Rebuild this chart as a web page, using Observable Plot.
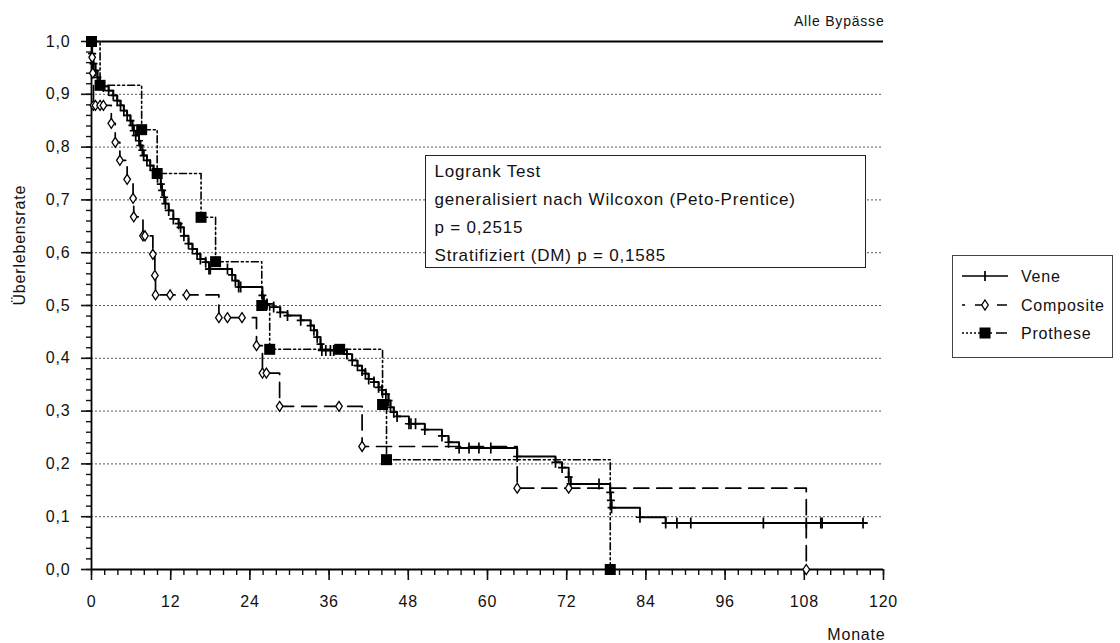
<!DOCTYPE html>
<html lang="de">
<head>
<meta charset="utf-8">
<script src="https://cdn.jsdelivr.net/npm/d3@7"></script>
<script src="https://cdn.jsdelivr.net/npm/@observablehq/plot@0.6"></script>
<style>
  html, body { margin: 0; padding: 0; background: #fff; }
  #wrap { position: relative; width: 1120px; height: 643px; font-family: "Liberation Sans", Arial, sans-serif; color: #111; }
  #wrap svg text { letter-spacing: 0.8px; }
  #testbox {
    position: absolute; left: 425px; top: 155px; width: 441px; height: 113px;
    box-sizing: border-box; border: 1.6px solid #222; background: #fff;
    padding: 2px 0 0 8.5px; font-size: 17px; letter-spacing: 0.8px; line-height: 28px;
  }
  #legend { position: absolute; left: 952px; top: 255px; }
</style>
</head>
<body>
<div id="wrap">
  <div id="testbox">
    <div>Logrank Test</div>
    <div>generalisiert nach Wilcoxon (Peto-Prentice)</div>
    <div>p = 0,2515</div>
    <div>Stratifiziert (DM) p = 0,1585</div>
  </div>
  <svg id="legend" width="161" height="103">
    <rect x="0.5" y="0.5" width="160" height="102" fill="#fff" stroke="#444" stroke-width="1"/>
    <g stroke="#000" stroke-width="1.7" fill="none">
      <path d="M10,21H56M33,16V26"/>
      <path d="M10,50H13M23,50H33M45,50H55"/>
      <path d="M33,45L36.3,50L33,55L29.7,50Z" fill="#fff" stroke-width="1.3"/>
      <path d="M10,78H29" stroke-dasharray="2,2"/>
      <path d="M38,78H40M44,78H55"/>
    </g>
    <rect x="27.5" y="72.5" width="11" height="11" fill="#000"/>
    <g font-size="16" fill="#111" style="letter-spacing:1px">
      <text x="69" y="27">Vene</text>
      <text x="69" y="56">Composite</text>
      <text x="69" y="84">Prothese</text>
    </g>
  </svg>
</div>
<script>
// Kaplan–Meier estimates: each entry is an observation time (months) and the
// survival rate after it; flat entries are censored follow-ups.
const veneMonths = [0.1,0.3,0.6,0.9,1.2,1.8,2.6,3.3,3.9,4.4,4.9,5.4,5.9,6.2,6.4,6.7,7.2,7.4,7.7,7.9,8.4,8.9,9.4,10.0,10.5,10.7,11.0,11.2,11.7,12.4,13.2,13.5,14.0,14.7,15.3,16.0,16.5,17.3,17.8,18.0,20.6,21.3,21.8,22.3,22.6,25.9,26.1,26.6,27.6,28.6,29.7,31.7,33.2,33.7,34.2,34.7,34.9,35.5,36.2,36.7,38.7,39.5,40.3,41.0,41.5,42.0,42.8,43.5,44.0,44.6,45.0,45.3,45.8,46.3,48.1,48.4,49.1,50.5,53.1,54.1,55.7,57.2,58.7,60.5,64.5,70.3,71.3,72.3,72.6,76.9,78.6,78.7,78.8,83.1,87.0,88.7,90.8,101.8,108.3,110.5,110.7,116.9];
const veneSurvival = [0.977,0.958,0.945,0.932,0.922,0.915,0.907,0.898,0.888,0.879,0.869,0.860,0.850,0.841,0.831,0.822,0.812,0.803,0.794,0.784,0.775,0.765,0.756,0.743,0.730,0.718,0.705,0.693,0.680,0.664,0.655,0.648,0.632,0.617,0.607,0.598,0.588,0.582,0.569,0.569,0.569,0.558,0.547,0.535,0.535,0.519,0.509,0.503,0.497,0.487,0.481,0.472,0.462,0.453,0.440,0.427,0.415,0.415,0.415,0.415,0.408,0.396,0.386,0.377,0.371,0.361,0.355,0.345,0.340,0.332,0.320,0.307,0.298,0.290,0.276,0.276,0.276,0.265,0.253,0.241,0.230,0.230,0.230,0.230,0.214,0.203,0.193,0.175,0.162,0.162,0.146,0.131,0.117,0.099,0.088,0.088,0.088,0.088,0.088,0.088,0.088,0.088];
const veneLastFollowUp = 117.5;

const compositeMonths = [0.1,0.2,0.3,0.6,1.3,1.8,3.0,3.6,4.3,5.4,6.3,6.4,7.8,8.1,9.3,9.6,9.7,11.9,14.4,19.3,20.6,22.8,25.0,25.9,26.5,28.5,37.5,41.0,64.5,72.3,108.3];
const compositeSurvival = [0.970,0.940,0.879,0.879,0.879,0.879,0.845,0.809,0.775,0.739,0.703,0.668,0.632,0.632,0.597,0.557,0.520,0.520,0.520,0.477,0.477,0.477,0.424,0.372,0.372,0.309,0.309,0.233,0.154,0.154,0];

const protheseMonths = [0,1.3,7.6,9.95,16.6,18.8,25.8,27.0,37.6,44.1,44.7,78.6];
const protheseSurvival = [1,0.917,0.833,0.75,0.667,0.583,0.5,0.417,0.417,0.3125,0.208,0];

const xMajorTicks = d3.range(0, 121, 12);
const xMinorTicks = d3.range(0, 121, 2);
const yMajorTicks = d3.range(0, 11).map(i => i / 10);
const yMinorTicks = d3.range(0, 51).map(i => i / 50);
const gridLevels = d3.range(1, 10).map(i => i / 10);

const rows = (months, surv) => months.map((m, i) => ({m, s: surv[i]}));
const vene = rows(veneMonths, veneSurvival);
const composite = rows(compositeMonths, compositeSurvival);
const prothese = rows(protheseMonths, protheseSurvival);

const venePath = [{m: 0, s: 1}, ...vene, {m: veneLastFollowUp, s: veneSurvival[veneSurvival.length - 1]}];
const compositePath = [{m: 0, s: 1}, ...composite];
const prothesePath = prothese;

// marker shapes
const plusMark = {draw(ctx) { ctx.moveTo(-4, 0); ctx.lineTo(4, 0); ctx.moveTo(0, -5.5); ctx.lineTo(0, 5.5); }};
const diamondMark = {draw(ctx) { ctx.moveTo(0, -5); ctx.lineTo(3.3, 0); ctx.lineTo(0, 5); ctx.lineTo(-3.3, 0); ctx.closePath(); }};
const squareMark = {draw(ctx) { ctx.moveTo(-5.5, -5.5); ctx.lineTo(5.5, -5.5); ctx.lineTo(5.5, 5.5); ctx.lineTo(-5.5, 5.5); ctx.closePath(); }};

const comma = d => d.toFixed(1).replace(".", ",");

const chart = Plot.plot({
  width: 1120,
  height: 643,
  marginLeft: 91,
  marginRight: 237,
  marginTop: 41,
  marginBottom: 74,
  x: {domain: [0, 120]},
  y: {domain: [0, 1]},
  style: {fontFamily: "'Liberation Sans', Arial, sans-serif", fontSize: "16px", color: "#111", background: "transparent", overflow: "visible"},
  marks: [
    Plot.ruleY(gridLevels, {stroke: "#555", strokeDasharray: "2,2", strokeWidth: 1}),
    Plot.ruleY([1], {stroke: "#000", strokeWidth: 1.8}),
    Plot.axisY(yMinorTicks, {tickSize: 5, tickFormat: () => "", label: null, strokeWidth: 1.4}),
    Plot.axisY(yMajorTicks, {tickSize: 10, tickPadding: 11, tickFormat: comma, label: null, strokeWidth: 1.6}),
    Plot.axisX(xMinorTicks, {tickSize: 6, tickFormat: () => "", label: null, strokeWidth: 1.4}),
    Plot.axisX(xMajorTicks, {tickSize: 11, tickPadding: 15, tickFormat: d => String(d), label: null, strokeWidth: 1.6}),
    Plot.ruleX([0], {stroke: "#000", strokeWidth: 1.8}),
    Plot.ruleY([0], {stroke: "#000", strokeWidth: 1.8}),
    Plot.line(compositePath, {x: "m", y: "s", curve: "step-after", stroke: "#000", strokeWidth: 1.7, strokeDasharray: "15,8"}),
    Plot.line(prothesePath, {x: "m", y: "s", curve: "step-after", stroke: "#000", strokeWidth: 1.6, strokeDasharray: "7,3,2,3,2,3"}),
    Plot.line(venePath, {x: "m", y: "s", curve: "step-after", stroke: "#000", strokeWidth: 1.9}),
    Plot.dot(vene, {x: "m", y: "s", symbol: plusMark, fill: "none", stroke: "#000", strokeWidth: 1.7}),
    Plot.dot(composite, {x: "m", y: "s", symbol: diamondMark, fill: "#fff", stroke: "#000", strokeWidth: 1.3}),
    Plot.dot(prothese, {x: "m", y: "s", symbol: squareMark, fill: "#000", stroke: "none"}),
    Plot.text(["Überlebensrate"], {frameAnchor: "left", text: d => d, rotate: -90, dx: -72, fontSize: 16, fill: "#111"}),
    Plot.text(["Monate"], {frameAnchor: "bottom-right", text: d => d, textAnchor: "end", dx: 2, dy: 70, fontSize: 16, fill: "#111"}),
    Plot.text(["Alle Bypässe"], {frameAnchor: "top-right", text: d => d, textAnchor: "end", dx: 1, dy: -25, fontSize: 14, fill: "#111"})
  ]
});

chart.style.position = "absolute";
chart.style.left = "0px";
chart.style.top = "0px";
const wrap = document.getElementById("wrap");
wrap.insertBefore(chart, wrap.firstChild);
</script>
</body>
</html>
